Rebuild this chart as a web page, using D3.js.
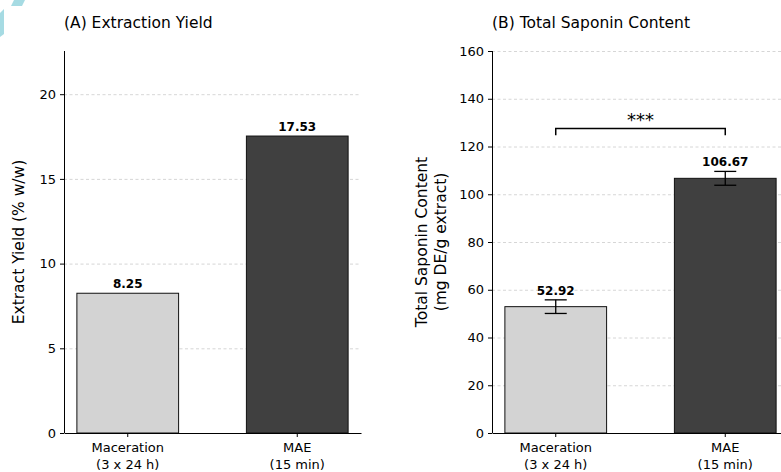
<!DOCTYPE html>
<html>
<head>
<meta charset="utf-8">
<script src="https://cdn.jsdelivr.net/npm/d3@7"></script>
<style>
  body { margin: 0; background: #fff; }
  svg { font-family: "DejaVu Sans", sans-serif; }
  .grid line { stroke: #cccccc; stroke-dasharray: 3,2.5; stroke-width: 0.8; }
  .grid path { display: none; }
</style>
</head>
<body>
<div id="chart"></div>
<script>
// Datos
var categories = ["Maceration\n(3 x 24 h)", "MAE\n(15 min)"];
var yieldValues = [8.25, 17.53];
var saponinValues = [52.92, 106.67];
var saponinErrors = [2.85, 2.9];
var barColors = ["#d3d3d3", "#404040"];
var yieldTicks = [0, 5, 10, 15, 20];
var saponinTicks = [0, 20, 40, 60, 80, 100, 120, 140, 160];
var significance = "***";
var bracketLevel = [127.5, 124.7];

var width = 781, height = 472;

var svg = d3.select("#chart").append("svg")
    .attr("width", width)
    .attr("height", height);

// decoración cian de la esquina
svg.append("polygon").attr("points", "14,0 25,0 22,6 11,6").attr("fill", "#a6dbe3");
svg.append("polygon").attr("points", "0,13 4,9 4,34 0,37").attr("fill", "#a6dbe3");

function drawPanel(opts) {
    var g = svg.append("g");
    var x = d3.scaleBand()
        .domain(categories)
        .range([opts.left, opts.left + 297])
        .paddingInner(0.4)
        .paddingOuter(0.076);
    var y = d3.scaleLinear()
        .domain([0, opts.yMax])
        .range([433, 51]);

    // cuadrícula
    g.append("g")
        .attr("class", "grid")
        .attr("transform", "translate(" + opts.left + ",0)")
        .call(d3.axisLeft(y).tickValues(opts.ticks.filter(function(t) { return t > 0; })).tickSize(-297).tickFormat(""));

    // barras
    g.selectAll(".bar")
        .data(opts.values)
        .enter().append("rect")
        .attr("x", function(d, i) { return x(categories[i]); })
        .attr("y", function(d) { return y(d); })
        .attr("width", x.bandwidth())
        .attr("height", function(d) { return y(0) - y(d); })
        .attr("fill", function(d, i) { return barColors[i]; })
        .attr("stroke", "#111")
        .attr("stroke-width", 1);

    // barras de error
    if (opts.errors) {
        opts.values.forEach(function(v, i) {
            var cx = x(categories[i]) + x.bandwidth() / 2;
            var e = opts.errors[i];
            g.append("line").attr("x1", cx).attr("x2", cx).attr("y1", y(v - e)).attr("y2", y(v + e)).attr("stroke", "#000").attr("stroke-width", 1.3);
            [v - e, v + e].forEach(function(yy) {
                g.append("line").attr("x1", cx - 11).attr("x2", cx + 11).attr("y1", y(yy)).attr("y2", y(yy)).attr("stroke", "#000").attr("stroke-width", 1.3);
            });
        });
    }

    // etiquetas de valor
    g.selectAll(".val")
        .data(opts.values)
        .enter().append("text")
        .attr("x", function(d, i) { return x(categories[i]) + x.bandwidth() / 2; })
        .attr("y", function(d, i) { return y(d + (opts.errors ? opts.errors[i] : 0)) - 5; })
        .attr("text-anchor", "middle")
        .style("font-size", "12px")
        .style("font-weight", "bold")
        .text(function(d) { return d.toFixed(2); });

    // eje y
    var ay = g.append("g")
        .attr("transform", "translate(" + opts.left + ",0)")
        .call(d3.axisLeft(y).tickValues(opts.ticks).tickSize(4).tickPadding(4).tickSizeOuter(0));
    ay.attr("font-family", "DejaVu Sans").attr("font-size", 13);
    ay.select(".domain").attr("stroke", "#000").attr("d", "M0.5,433V51");
    ay.selectAll("text").attr("fill", "#000");

    // eje x
    var ax = g.append("g")
        .attr("transform", "translate(0,433)")
        .call(d3.axisBottom(x).tickSize(4).tickSizeOuter(0).tickFormat(""));
    ax.attr("font-family", "DejaVu Sans").attr("font-size", 13);
    ax.select(".domain").attr("stroke", "#000");
    ax.selectAll(".tick").each(function(d) {
        var lines = d.split("\n");
        var t = d3.select(this).append("text")
            .attr("fill", "#000")
            .attr("text-anchor", "middle");
        lines.forEach(function(l, k) {
            t.append("tspan").attr("x", 0).attr("y", 19 + k * 17).text(l);
        });
    });

    // título
    g.append("text")
        .attr("x", opts.left)
        .attr("y", 28)
        .style("font-size", "15.5px")
        .text(opts.title);

    // etiqueta eje y
    var yl = g.append("text")
        .attr("transform", "translate(" + opts.labelX + ",242) rotate(-90)")
        .attr("text-anchor", "middle")
        .style("font-size", "15.5px");
    opts.yLabel.forEach(function(l, k) {
        yl.append("tspan").attr("x", 0).attr("y", k * 19).text(l);
    });

    return { x: x, y: y, g: g };
}

drawPanel({
    left: 64, yMax: 22.55, ticks: yieldTicks, values: yieldValues,
    title: "(A) Extraction Yield", yLabel: ["Extract Yield (% w/w)"], labelX: 24
});

var b = drawPanel({
    left: 492, yMax: 160, ticks: saponinTicks, values: saponinValues, errors: saponinErrors,
    title: "(B) Total Saponin Content", yLabel: ["Total Saponin Content", "(mg DE/g extract)"], labelX: 427
});

// corchete de significancia
var x1 = b.x(categories[0]) + b.x.bandwidth() / 2;
var x2 = b.x(categories[1]) + b.x.bandwidth() / 2;
b.g.append("path")
    .attr("d", "M" + x1 + "," + b.y(bracketLevel[1]) + "V" + b.y(bracketLevel[0]) + "H" + x2 + "V" + b.y(bracketLevel[1]))
    .attr("fill", "none")
    .attr("stroke", "#000")
    .attr("stroke-width", 1.5);
b.g.append("text")
    .attr("x", (x1 + x2) / 2)
    .attr("y", b.y(bracketLevel[0]) - 3)
    .attr("text-anchor", "middle")
    .style("font-size", "18px")
    .text(significance);
</script>
</body>
</html>
